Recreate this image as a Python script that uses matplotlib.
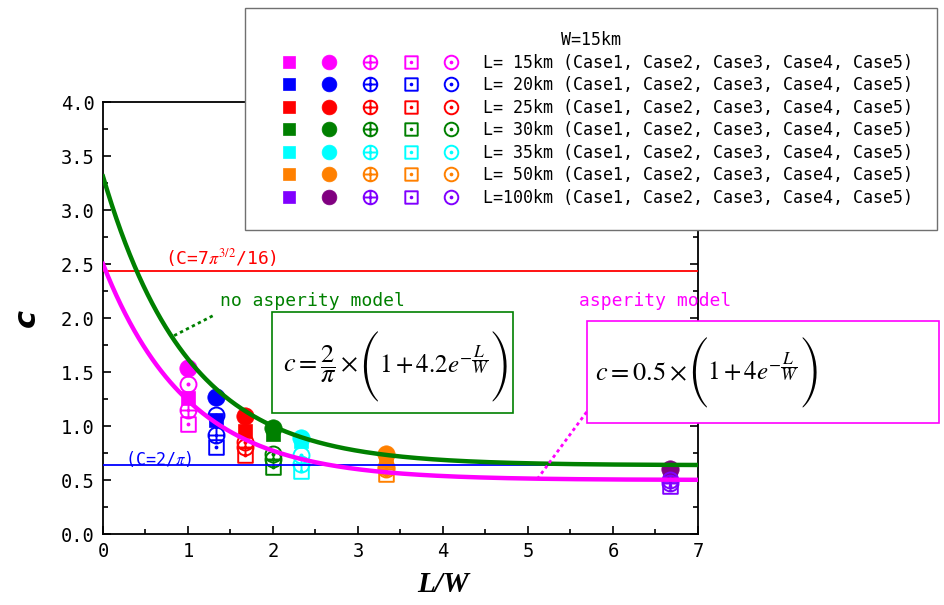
import numpy as np
import matplotlib
matplotlib.use("Agg")
import matplotlib.pyplot as plt
from matplotlib.path import Path
from matplotlib.lines import Line2D
from matplotlib.patches import Rectangle
from matplotlib.legend_handler import HandlerTuple

plt.rcParams['mathtext.fontset'] = 'stix'
MONO = 'DejaVu Sans Mono'

# ---------------- data ----------------
W = 15
L_values = [15, 20, 25, 30, 35, 50, 100]
row_labels = ["L= 15km", "L= 20km", "L= 25km", "L= 30km", "L= 35km", "L= 50km", "L=100km"]
case_names = ["Case1", "Case2", "Case3", "Case4", "Case5"]
colors = ['#FF00FF', '#0000FF', '#FF0000', '#008000', '#00FFFF', '#FF8000', '#8000FF']
case2_colors = ['#FF00FF', '#0000FF', '#FF0000', '#008000', '#00FFFF', '#FF8000', '#800080']

case1 = [1.26, 1.06, 0.95, 0.93, 0.86, 0.68, 0.55]
case2 = [1.54, 1.27, 1.09, 0.98, 0.89, 0.74, 0.60]
case3 = [1.15, 0.92, 0.81, 0.69, 0.65, 0.60, 0.47]
case4 = [1.02, 0.81, 0.73, 0.62, 0.58, 0.56, 0.44]
case5 = [1.39, 1.10, 0.85, 0.74, 0.73, 0.62, 0.50]
cases = [case1, case2, case3, case4, case5]

c_noasp = 7 * np.pi ** 1.5 / 16
c_lower = 2 / np.pi

# ---------------- markers ----------------
M, LT, CL = Path.MOVETO, Path.LINETO, Path.CLOSEPOLY
circ = Path.unit_circle()
plus = Path([[-1, 0], [1, 0], [0, -1], [0, 1]], [M, LT, M, LT])
sq = Path([[-1, -1], [1, -1], [1, 1], [-1, 1], [-1, -1]], [M, LT, LT, LT, CL])
dot = Path.circle((0, 0), 0.13)
oplus = Path.make_compound_path(circ, plus)
sqdot = Path.make_compound_path(sq, dot)
cdot = Path.make_compound_path(circ, dot)

marker_styles = [
    dict(marker='s', ms=10.5, filled=True),
    dict(marker='o', ms=12.5, filled=True),
    dict(marker=oplus, ms=11.5, filled=False),
    dict(marker=sqdot, ms=10.5, filled=False),
    dict(marker=cdot, ms=11.5, filled=False),
]


def mk_kwargs(ci, color, scale=1.0):
    st = marker_styles[ci]
    kw = dict(marker=st['marker'], ms=st['ms'] * scale, linestyle='none')
    if st['filled']:
        kw.update(color=color, mec=color, mfc=color, mew=0.5)
    else:
        kw.update(color=color, mec=color, mfc='none', mew=1.4)
    return kw


FW, FH = 945, 605
fig = plt.figure(figsize=(FW / 100, FH / 100), dpi=100)
ax = fig.add_axes([103 / FW, 1 - 534 / FH, (698 - 103) / FW, (534 - 102) / FH])

x_ratio = [L / W for L in L_values]
for i, L in enumerate(L_values):
    for ci in range(5):
        col = case2_colors[i] if ci == 1 else colors[i]
        ax.plot([x_ratio[i]], [cases[ci][i]], zorder=2, **mk_kwargs(ci, col))

# model curves
xs = np.linspace(0, 7, 400)
ax.plot(xs, 2 / np.pi * (1 + 4.2 * np.exp(-xs)), color='#008000', lw=3.2, zorder=4)
ax.plot(xs, 0.5 * (1 + 4 * np.exp(-xs)), color='#FF00FF', lw=3.2, zorder=4)
ax.plot([0, 7], [c_noasp, c_noasp], color='#FF0000', lw=1.3, zorder=3)
ax.plot([0, 7], [c_lower, c_lower], color='#0000FF', lw=1.3, zorder=3)

ax.set_xlim(0, 7)
ax.set_ylim(0, 4)
ax.set_xticks(np.arange(0, 8, 1))
ax.set_xticks(np.arange(0.5, 7, 1), minor=True)
ax.set_yticks(np.arange(0, 4.01, 0.5))
ax.set_yticks(np.arange(0.25, 4, 0.5), minor=True)
ax.set_xticklabels([str(v) for v in range(8)], family=MONO, fontsize=13.5)
ax.set_yticklabels([f"{v:.1f}" for v in np.arange(0, 4.01, 0.5)], family=MONO, fontsize=13.5)
ax.tick_params(which='both', direction='in', right=True, top=False, width=1.2)
ax.tick_params(which='major', length=6, pad=6)
ax.tick_params(which='minor', length=3.5)
for s in ax.spines.values():
    s.set_linewidth(1.3)

ax.set_xlabel('L/W', fontsize=21, family='Liberation Serif', style='italic', weight='bold')
ax.xaxis.set_label_coords(4 / 7, -0.085)
ax.set_ylabel('c', fontsize=22, family='DejaVu Sans', style='italic', weight='bold')
ax.yaxis.set_label_coords(-0.105, 0.5)

# annotations
ax.text(0.73, 2.56, r'(C=7$\pi^{3/2}$/16)', color='#FF0000', fontsize=13, family=MONO, va='center')
ax.text(0.26, 0.69, r'(C=2/$\pi$)', color='#0000FF', fontsize=12, family=MONO, va='center')
ax.text(1.38, 2.16, 'no asperity model', color='#008000', fontsize=13, family=MONO, va='center')
ax.text(5.6, 2.16, 'asperity model', color='#FF00FF', fontsize=13, family=MONO, va='center',
        clip_on=False, zorder=6)
ax.plot([1.29, 0.82], [2.02, 1.83], color='#008000', lw=2, ls=(0, (1.2, 1.2)), zorder=5)
ax.plot([5.69, 5.12], [1.13, 0.52], color='#FF00FF', lw=2, ls=(0, (1.2, 1.2)), zorder=5)

# formula boxes
fig.patches.append(Rectangle((272 / FW, 1 - 413 / FH), 241 / FW, 101 / FH,
                             transform=fig.transFigure, facecolor='white',
                             edgecolor='#008000', lw=1.2, zorder=5))
fig.patches.append(Rectangle((587 / FW, 1 - 423 / FH), 352 / FW, 102 / FH,
                             transform=fig.transFigure, facecolor='white',
                             edgecolor='#FF00FF', lw=1.2, zorder=5))

renderer = fig.canvas.get_renderer()


def formula(x_px, base_px, axis_px, head, body, fs=19, fs_body=18, fs_paren=16.5):
    """Chain pieces left to right: head ( body )."""
    t = fig.text(x_px / FW, 1 - base_px / FH, head, fontsize=fs, va='baseline', zorder=6)
    x = t.get_window_extent(renderer).x1 + 2
    p = fig.text(x / FW, 1 - axis_px / FH, '(', family='STIXSizeFourSym', fontsize=fs_paren,
                 va='center', zorder=6)
    x = p.get_window_extent(renderer).x1 + 0
    b = fig.text(x / FW, 1 - base_px / FH, body, fontsize=fs_body, va='baseline', zorder=6)
    x = b.get_window_extent(renderer).x1 + 1
    fig.text(x / FW, 1 - axis_px / FH, ')', family='STIXSizeFourSym', fontsize=fs_paren,
             va='center', zorder=6)


formula(283, 373, 366, r'$c=\dfrac{2}{\pi}\times$', r'$1+4.2e^{-\dfrac{L}{W}}$')
formula(595, 380, 372, r'$c=0.5\times$', r'$1+4e^{-\dfrac{L}{W}}$')

# legend
handles = []
labels = []
for i in range(len(L_values)):
    tup = []
    for ci in range(5):
        col = case2_colors[i] if ci == 1 else colors[i]
        tup.append(Line2D([], [], **mk_kwargs(ci, col, scale=0.85)))
    handles.append(tuple(tup))
    labels.append(f"{row_labels[i]} (" + ", ".join(case_names) + ")")

leg = fig.legend(handles, labels, loc='upper left', bbox_to_anchor=(245 / FW, 1 - 8 / FH),
                 bbox_transform=fig.transFigure,
                 handler_map={tuple: HandlerTuple(ndivide=None, pad=0)},
                 prop=dict(family=MONO, size=12), title='W=15km',
                 title_fontproperties=dict(family=MONO, size=12),
                 handlelength=12.2, handletextpad=0.69, labelspacing=0.27,
                 borderpad=1.4, borderaxespad=0, fancybox=False, framealpha=1,
                 edgecolor='#707070', numpoints=1)
leg.get_frame().set_linewidth(1.0)
leg.set_zorder(7)

fig.savefig('out.png', dpi=100)
